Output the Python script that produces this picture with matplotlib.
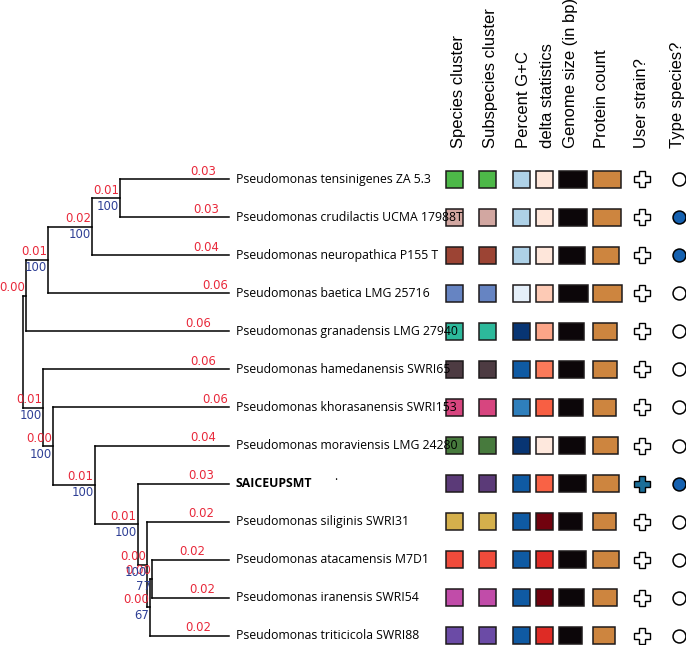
"""Phylogenomic tree with species/genome annotation columns."""
import matplotlib
matplotlib.use("Agg")
import matplotlib.pyplot as plt
from matplotlib.patches import Rectangle
from matplotlib.colors import Normalize

# ── Data ────────────────────────────────────────────────────
LEAF_NAMES = [
    "Pseudomonas tensinigenes ZA 5.3",
    "Pseudomonas crudilactis UCMA 17988T",
    "Pseudomonas neuropathica P155 T",
    "Pseudomonas baetica LMG 25716",
    "Pseudomonas granadensis LMG 27940",
    "Pseudomonas hamedanensis SWRI65",
    "Pseudomonas khorasanensis SWRI153",
    "Pseudomonas moraviensis LMG 24280",
    "SAICEUPSMT",
    "Pseudomonas siliginis SWRI31",
    "Pseudomonas atacamensis M7D1",
    "Pseudomonas iranensis SWRI54",
    "Pseudomonas triticicola SWRI88",
]

# newick: leaves are indices into LEAF_NAMES, internal labels are bootstrap support
TREE = (
    "(((((0:0.0334,1:0.0344)100:0.0097,2:0.0443)100:0.0152,3:0.0624)100:0.0076,"
    "4:0.0643):0.0010,"
    "(5:0.0600,(6:0.0607,(7:0.0424,(8:0.0266,(9:0.0234,((10:0.0186,11:0.0221)"
    "77:0.0007,12:0.0214)67:0.0010)100:0.0034)100:0.0148)100:0.0144)100:0.0034)"
    "100:0.0069);"
)

HEADERS = ["Species cluster", "Subspecies cluster", "Percent G+C", "delta statistics",
           "Genome size (in bp)", "Protein count", "User strain?", "Type species?"]

SPECIES_COLORS = ["#4DB848", "#D2A7A1", "#9C4434", "#6684C2", "#2DB99B", "#4D3B42",
                  "#D7457F", "#477A3D", "#5B3A78", "#D5B04C", "#EF4B3B", "#C14CA9",
                  "#6B4BA6"]
SUBSPECIES_COLORS = SPECIES_COLORS
GC_PERCENT = [58.8, 58.8, 58.8, 58.3, 60.2, 59.9, 59.6, 60.2, 59.9, 59.9, 59.9, 59.9, 59.9]
DELTA = [0.118, 0.118, 0.118, 0.140, 0.164, 0.190, 0.206, 0.116, 0.204, 0.296,
         0.236, 0.296, 0.236]
GENOME_MB = [6.30, 6.30, 5.90, 6.66, 5.70, 5.70, 5.40, 5.90, 6.07, 5.30, 6.07, 5.75, 5.30]
PROTEINS = [5540, 5540, 5140, 5800, 4860, 4860, 4540, 5000, 5140, 4540, 5140, 4860, 4460]
USER_STRAIN = [False] * 8 + [True] + [False] * 4
TYPE_SPECIES = [False, True, True, False, False, False, False, False, True,
                False, False, False, False]

# ── Colors / layout ────────────────────────────────────────
RED = "#E8283A"
BLUE = "#2E3F95"
EDGE = "#1E1A1B"
GENOME_C = "#0C0609"
PROTEIN_C = "#CD853F"
CROSS_C = "#1B6E98"
CIRCLE_C = "#1561B0"

W, H = 686, 645
ROW0, ROW_STEP = 179, 38.08          # pixel y of first row, row spacing
ROOT_PX, PX_PER_UNIT = 23, 2900      # tree scale
YLIM = ((H - ROW0) / ROW_STEP, -ROW0 / ROW_STEP)
BOX = 17 / ROW_STEP                  # box height in row units

fig = plt.figure(figsize=(W / 100, H / 100), dpi=100, facecolor="white")
ax = fig.add_axes([0, 0, 1, 1])
ax.set_xlim(0, W)
ax.set_ylim(*YLIM)
ax.axis("off")
ax_t = fig.add_axes([0, 0, 1, 1])
ax_t.set_xlim(-ROOT_PX / PX_PER_UNIT, (W - ROOT_PX) / PX_PER_UNIT)
ax_t.set_ylim(*YLIM)
ax_t.axis("off")
ax_t.patch.set_alpha(0)


# ── Tree ────────────────────────────────────────────────────
def parse(s, i=0):
    node = {"children": [], "name": None, "support": None, "dist": 0.0}
    if s[i] == "(":
        i += 1
        while True:
            child, i = parse(s, i)
            node["children"].append(child)
            i += 1
            if s[i - 1] == ")":
                break
    j = i
    while s[i] not in ",);:":
        i += 1
    label = s[j:i]
    if node["children"]:
        node["support"] = label or None
    else:
        node["name"] = label
    if s[i] == ":":
        i += 1
        j = i
        while s[i] not in ",);":
            i += 1
        node["dist"] = float(s[j:i])
    return node, i


def layout(node, parent_x=0.0):
    node["x"] = parent_x + node["dist"]
    for c in node["children"]:
        layout(c, node["x"])
    if node["children"]:
        node["y"] = (node["children"][0]["y"] + node["children"][-1]["y"]) / 2
    else:
        node["y"] = int(node["name"])


def max_depth(node):
    if not node["children"]:
        return node["x"]
    return max(max_depth(c) for c in node["children"])


root, _ = parse(TREE)
layout(root)
ALIGN = max_depth(root)

line_kw = dict(color="black", lw=1.1, solid_capstyle="projecting")
lab_kw = dict(textcoords="offset pixels", ha="right", va="center",
              fontsize=8.4, family="DejaVu Sans")


def draw(node, is_root=False):
    kids = node["children"]
    for c in kids:
        x_end = c["x"] if c["children"] else ALIGN
        ax_t.plot([node["x"], x_end], [c["y"], c["y"]], **line_kw)
        draw(c)
    if kids:
        ax_t.plot([node["x"], node["x"]], [kids[0]["y"], kids[-1]["y"]], **line_kw)
    if not is_root:
        ax_t.annotate(f"{node['dist']:.2f}", (node["x"], node["y"]),
                      xytext=(-1, 8), color=RED, **lab_kw)
        if node["support"]:
            ax_t.annotate(node["support"], (node["x"], node["y"]),
                          xytext=(-1, -8), color=BLUE, **lab_kw)


draw(root, is_root=True)

# ── Leaf names ──────────────────────────────────────────────
for r, name in enumerate(LEAF_NAMES):
    bold = name == "SAICEUPSMT"
    ax.text(236, r, name, ha="left", va="center", fontsize=8.8,
            family="Open Sans", fontweight="bold" if bold else "normal")
    if bold:
        ax.text(334, r - 0.08, "·", ha="left", va="center", fontsize=8.8,
                family="Open Sans")

# ── Headers ─────────────────────────────────────────────────
HEADER_X = [458, 490.5, 523, 547.5, 571, 601, 641, 677.5]
for hx, label in zip(HEADER_X, HEADERS):
    ax.text(hx, (148 - ROW0) / ROW_STEP, label, rotation=90, ha="center", va="bottom",
            fontsize=12, family="Liberation Sans")

# ── Annotation columns ─────────────────────────────────────
gc_norm = Normalize(58.1, 60.25)
delta_norm = Normalize(0.10, 0.30)
blues = plt.get_cmap("Blues")
reds = plt.get_cmap("Reds")
box_kw = dict(edgecolor=EDGE, linewidth=1.1)

for r in range(len(LEAF_NAMES)):
    cells = [(454.5, SPECIES_COLORS[r]), (487.5, SUBSPECIES_COLORS[r]),
             (521.5, blues(gc_norm(GC_PERCENT[r]))), (544.5, reds(delta_norm(DELTA[r])))]
    for cx, col in cells:
        ax.add_patch(Rectangle((cx - 8.5, r - BOX / 2), 17, BOX, facecolor=col, **box_kw))
    gw = 29.3 * GENOME_MB[r] / max(GENOME_MB)
    ax.add_patch(Rectangle((559, r - BOX / 2), gw, BOX, facecolor=GENOME_C, **box_kw))
    pw = 29.0 * PROTEINS[r] / max(PROTEINS)
    ax.add_patch(Rectangle((593, r - BOX / 2), pw, BOX, facecolor=PROTEIN_C, **box_kw))
    ax.plot(641.5, r, marker="P", ms=12, mfc=CROSS_C if USER_STRAIN[r] else "white",
            mec="black", mew=1.0)
    ax.plot(678.5, r, marker="o", ms=9.3, mfc=CIRCLE_C if TYPE_SPECIES[r] else "white",
            mec="black", mew=1.1)

fig.savefig("out.png", dpi=100, facecolor="white")
